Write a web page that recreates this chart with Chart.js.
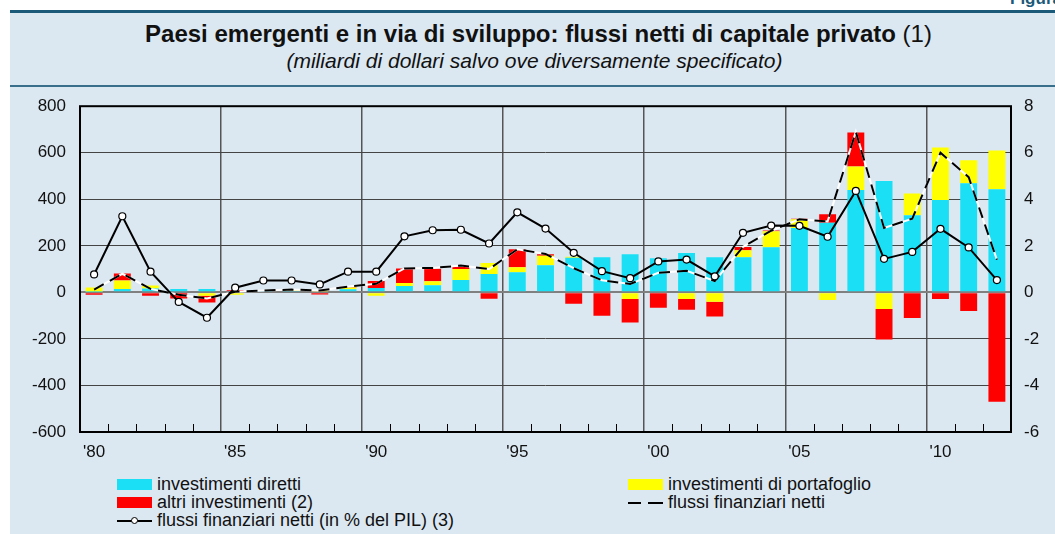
<!DOCTYPE html>
<html>
<head>
<meta charset="utf-8">
<script src="https://cdn.jsdelivr.net/npm/chart.js@4.4.1/dist/chart.umd.min.js"></script>
<style>
  body { margin: 0; width: 1055px; height: 534px; background: #fff; overflow: hidden; font-family: "Liberation Sans", Arial, sans-serif; position: relative; }
  #fig { position: absolute; left: 1010px; top: -11px; color: #1c5a7a; font-weight: bold; font-size: 17px; white-space: nowrap; }
  #topline { position: absolute; left: 10px; top: 10px; width: 1045px; height: 3px; background: #1c5a7a; }
  #panel { position: absolute; left: 10px; top: 13px; width: 1045px; height: 521px; background: #dce8f1; }
  #sep { position: absolute; left: 10px; top: 85px; width: 1045px; height: 2px; background: #3a6f8c; }
  #title { position: absolute; left: 16px; width: 1045px; top: 20px; text-align: center; font-size: 24px; line-height: 28px; color: #111; }
  #title b { font-weight: bold; }
  #sub { position: absolute; left: 12px; width: 1045px; top: 49px; text-align: center; font-size: 21px; line-height: 24px; font-style: italic; color: #111; }
  #c { position: absolute; left: 0; top: 82px; }
  .lg { position: absolute; font-size: 18px; color: #111; white-space: nowrap; line-height: 18px; }
  .box { display: inline-block; width: 35px; height: 11px; vertical-align: 0px; margin-right: 5px; }
  .sym { display: inline-block; width: 35px; height: 11px; vertical-align: 0px; margin-right: 5px; position: relative; }
</style>
</head>
<body>
<div id="fig">Figura 2.</div>
<div id="topline"></div>
<div id="panel"></div>
<div id="sep"></div>
<div id="title"><b>Paesi emergenti e in via di sviluppo: flussi netti di capitale privato</b> (1)</div>
<div id="sub">(miliardi di dollari salvo ove diversamente specificato)</div>
<canvas id="c" width="1055" height="380"></canvas>

<div class="lg" style="left:117px; top:475px;"><span class="box" style="background:#1be0f5"></span>investimenti diretti</div>
<div class="lg" style="left:628px; top:475px;"><span class="box" style="background:#ffff00"></span>investimenti di portafoglio</div>
<div class="lg" style="left:117px; top:493px;"><span class="box" style="background:#ff0000"></span>altri investimenti (2)</div>
<div class="lg" style="left:628px; top:493px;"><span class="sym"><span style="position:absolute;left:0;top:5px;width:13px;height:2px;background:#000"></span><span style="position:absolute;left:20px;top:5px;width:15px;height:2px;background:#000"></span></span>flussi finanziari netti</div>
<div class="lg" style="left:117px; top:511px;"><span class="sym"><span style="position:absolute;left:0;top:5px;width:35px;height:2px;background:#000"></span><span style="position:absolute;left:14px;top:2px;width:5px;height:5px;border:1px solid #000;border-radius:50%;background:#fff"></span></span>flussi finanziari netti (in % del PIL) (3)</div>

<script>
// anni 1980-2012
var years = [1980,1981,1982,1983,1984,1985,1986,1987,1988,1989,
             1990,1991,1992,1993,1994,1995,1996,1997,1998,1999,
             2000,2001,2002,2003,2004,2005,2006,2007,2008,2009,
             2010,2011,2012];

// miliardi di dollari
var diretti =    [3,14,17,14,14,3,6,6,5,13,
                  19,27,31,53,79,87,117,149,151,164,
                  147,169,151,151,194,277,299,440,479,331,
                  397,469,443];
var portafoglio = [18,37,13,-4,-14,-10,2,3,4,8,
                  -14,13,17,47,47,21,40,4,0,-29,
                  0,-29,-40,30,69,37,-33,101,-71,94,
                  226,99,167];
var altri =      [-10,30,-14,-22,-29,6,1,6,-9,3,
                  30,63,54,10,-27,77,7,-49,-100,-101,
                  -66,-46,-64,14,3,2,37,146,-131,-110,
                  -29,-80,-470];
var netti =      [12,80,15,-10,-26,3,8,12,8,25,
                  37,103,105,115,100,185,165,104,52,36,
                  84,93,49,196,265,314,305,690,277,317,
                  600,495,140];
// in % del PIL (scala di destra)
var nettiPil =   [0.77,3.27,0.89,-0.41,-1.09,0.2,0.51,0.51,0.34,0.89,
                  0.89,2.41,2.67,2.69,2.1,3.44,2.74,1.7,0.91,0.61,
                  1.33,1.41,0.69,2.56,2.87,2.86,2.39,4.36,1.44,1.74,
                  2.73,1.93,0.53];

var labels = years.map(function (y) { return "'" + String(y).slice(2); });

// cornice e tacche minori
var framePlugin = {
  id: 'frame',
  afterDatasetsDraw: function (chart) {
    var ctx = chart.ctx, a = chart.chartArea, xs = chart.scales.x;
    var w = xs.width / years.length;
    ctx.save();
    ctx.strokeStyle = '#000';
    ctx.lineWidth = 1;
    ctx.beginPath();
    for (var i = 1; i < years.length; i++) {
      if (i % 5 === 0) continue;
      var x = Math.round(xs.getPixelForValue(i) - w / 2) + 0.5;
      ctx.moveTo(x, a.bottom);
      ctx.lineTo(x, a.bottom - 8);
    }
    ctx.stroke();
    ctx.lineWidth = 2;
    ctx.strokeRect(a.left, a.top, a.right - a.left, a.bottom - a.top);
    ctx.restore();
  }
};

var font = { family: '"Liberation Sans", Arial, sans-serif', size: 17 };

new Chart(document.getElementById('c'), {
  type: 'bar',
  data: {
    labels: labels,
    datasets: [
      { label: 'investimenti diretti', data: diretti, backgroundColor: '#1be0f5', stack: 'b', order: 3 },
      { label: 'investimenti di portafoglio', data: portafoglio, backgroundColor: '#ffff00', stack: 'b', order: 3 },
      { label: 'altri investimenti (2)', data: altri, backgroundColor: '#ff0000', stack: 'b', order: 3 },
      { type: 'line', label: '_white', data: netti, borderColor: '#ffffff', borderWidth: 2,
        pointRadius: 0, tension: 0, stack: 'w', order: 2 },
      { type: 'line', label: 'flussi finanziari netti', data: netti, borderColor: '#000', borderWidth: 2,
        borderDash: [11, 7], pointRadius: 0, tension: 0, stack: 'd', order: 1 },
      { type: 'line', label: 'flussi finanziari netti (in % del PIL) (3)', data: nettiPil, yAxisID: 'y1',
        borderColor: '#000', borderWidth: 2, pointRadius: 3.5, pointBackgroundColor: '#fff',
        pointBorderColor: '#000', pointBorderWidth: 1.2, tension: 0, order: 0 }
    ]
  },
  options: {
    responsive: false,
    animation: false,
    layout: { padding: { left: 19, right: 0, top: 5, bottom: 0 } },
    datasets: { bar: { categoryPercentage: 1, barPercentage: 0.6 } },
    plugins: { legend: { display: false }, tooltip: { enabled: false } },
    scales: {
      x: {
        stacked: true,
        afterFit: function (s) { s.height = 30; },
        grid: {
          offset: true,
          drawTicks: false,
          color: function (c) { return (c.index % 5 === 0 && c.index > 0 && c.index < years.length) ? '#555' : 'rgba(0,0,0,0)'; },
          lineWidth: 1.5
        },
        border: { display: false },
        ticks: {
          autoSkip: false, maxRotation: 0, padding: 10, color: '#111', font: font,
          callback: function (v, i) { return years[i] % 5 === 0 ? labels[i] : ''; }
        }
      },
      y: {
        stacked: true,
        min: -600, max: 800,
        afterFit: function (s) { s.width = 61; },
        ticks: { stepSize: 200, padding: 14, color: '#111', font: font },
        grid: {
          drawTicks: false,
          color: function (c) { return c.tick.value === 0 ? '#808080' : '#444'; },
          lineWidth: function (c) { return c.tick.value === 0 ? 2 : 1; }
        },
        border: { display: false }
      },
      y1: {
        position: 'right',
        min: -6, max: 8,
        afterFit: function (s) { s.width = 44; },
        ticks: { stepSize: 2, padding: 13, crossAlign: 'near', color: '#111', font: font },
        grid: { display: false, drawTicks: false },
        border: { display: false }
      }
    }
  },
  plugins: [framePlugin]
});
</script>
</body>
</html>
